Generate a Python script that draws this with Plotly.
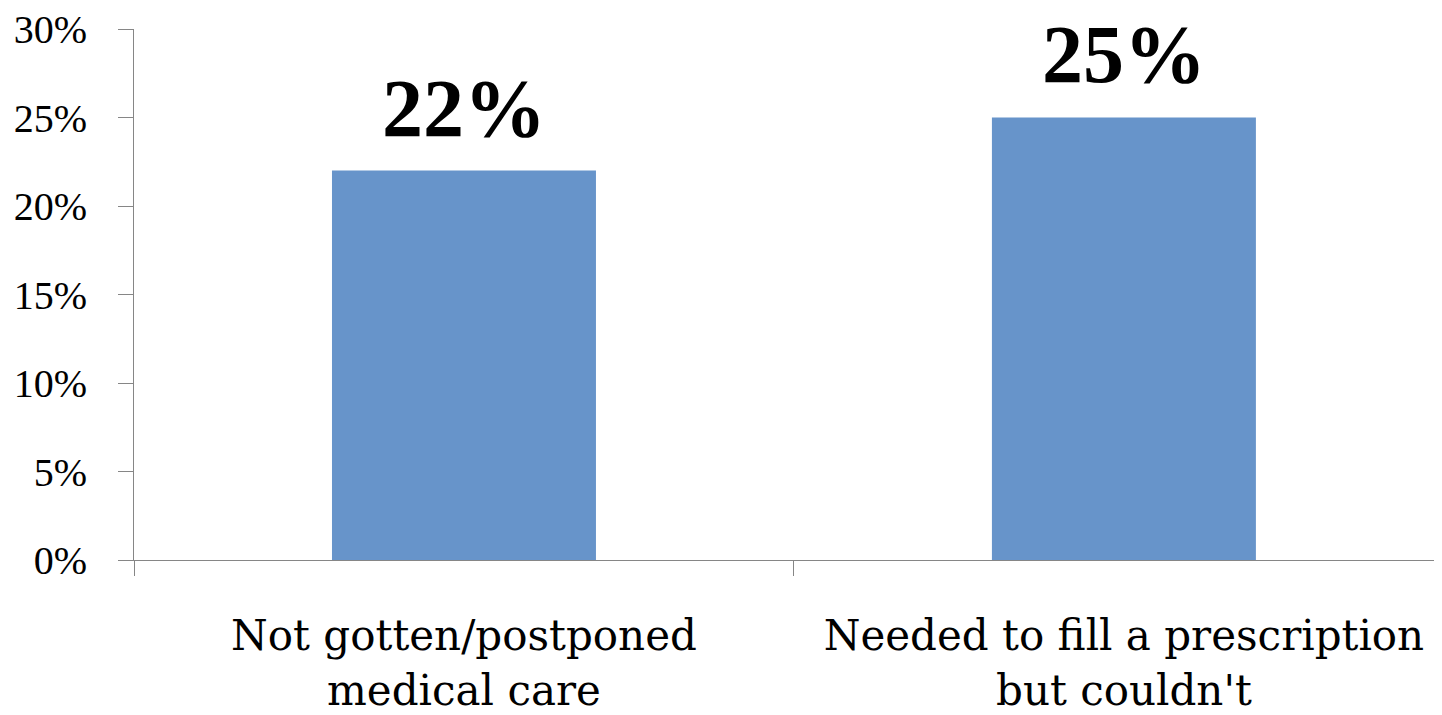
import plotly.graph_objects as go

categories = ["Not gotten/postponed<br>medical care", "Needed to fill a prescription<br>but couldn't"]
values = [22, 25]
value_labels = ["22%", "25%"]
y_ticks = [0, 5, 10, 15, 20, 25, 30]
y_tick_labels = ["0%", "5%", "10%", "15%", "20%", "25%", "30%"]

axis_color = "#868686"

fig = go.Figure()
fig.add_trace(go.Bar(
    x=categories, y=values, width=0.4,
    marker=dict(color="#6794CA", line=dict(width=0)),
    hoverinfo="skip",
))

for c, v, t in zip(categories, values, value_labels):
    fig.add_annotation(
        x=c, y=v, text="<b>" + t + "</b>", showarrow=False,
        yanchor="bottom", yshift=15,
        font=dict(family="Liberation Serif", size=82, color="black"),
    )

# page body has a default 8px margin, so the figure is sized to fit the window
fig.update_layout(
    width=1434, height=707,
    margin=dict(l=126, r=0, t=21, b=155, autoexpand=False),
    paper_bgcolor="white", plot_bgcolor="white",
    showlegend=False,
    bargap=0.6,
)
fig.update_xaxes(
    type="category",
    range=[-0.5, 1.482],
    tickson="boundaries",
    ticks="outside", ticklen=15, tickcolor=axis_color, tickwidth=1,
    showline=True, linecolor=axis_color, linewidth=1,
    showgrid=False, automargin=False,
    tickfont=dict(family="DejaVu Serif", size=42, color="black"),
    ticklabelstandoff=39,
    ticklabeloverflow="allow",
)
fig.update_yaxes(
    range=[0, 30],
    tickvals=y_ticks, ticktext=y_tick_labels,
    ticks="outside", ticklen=15, tickcolor=axis_color, tickwidth=1,
    showline=True, linecolor=axis_color, linewidth=1,
    showgrid=False, zeroline=False, automargin=False,
    tickfont=dict(family="Liberation Serif", size=40, color="black"),
    ticklabelstandoff=23,
    ticklabeloverflow="allow",
)

fig.write_html("out.html")
